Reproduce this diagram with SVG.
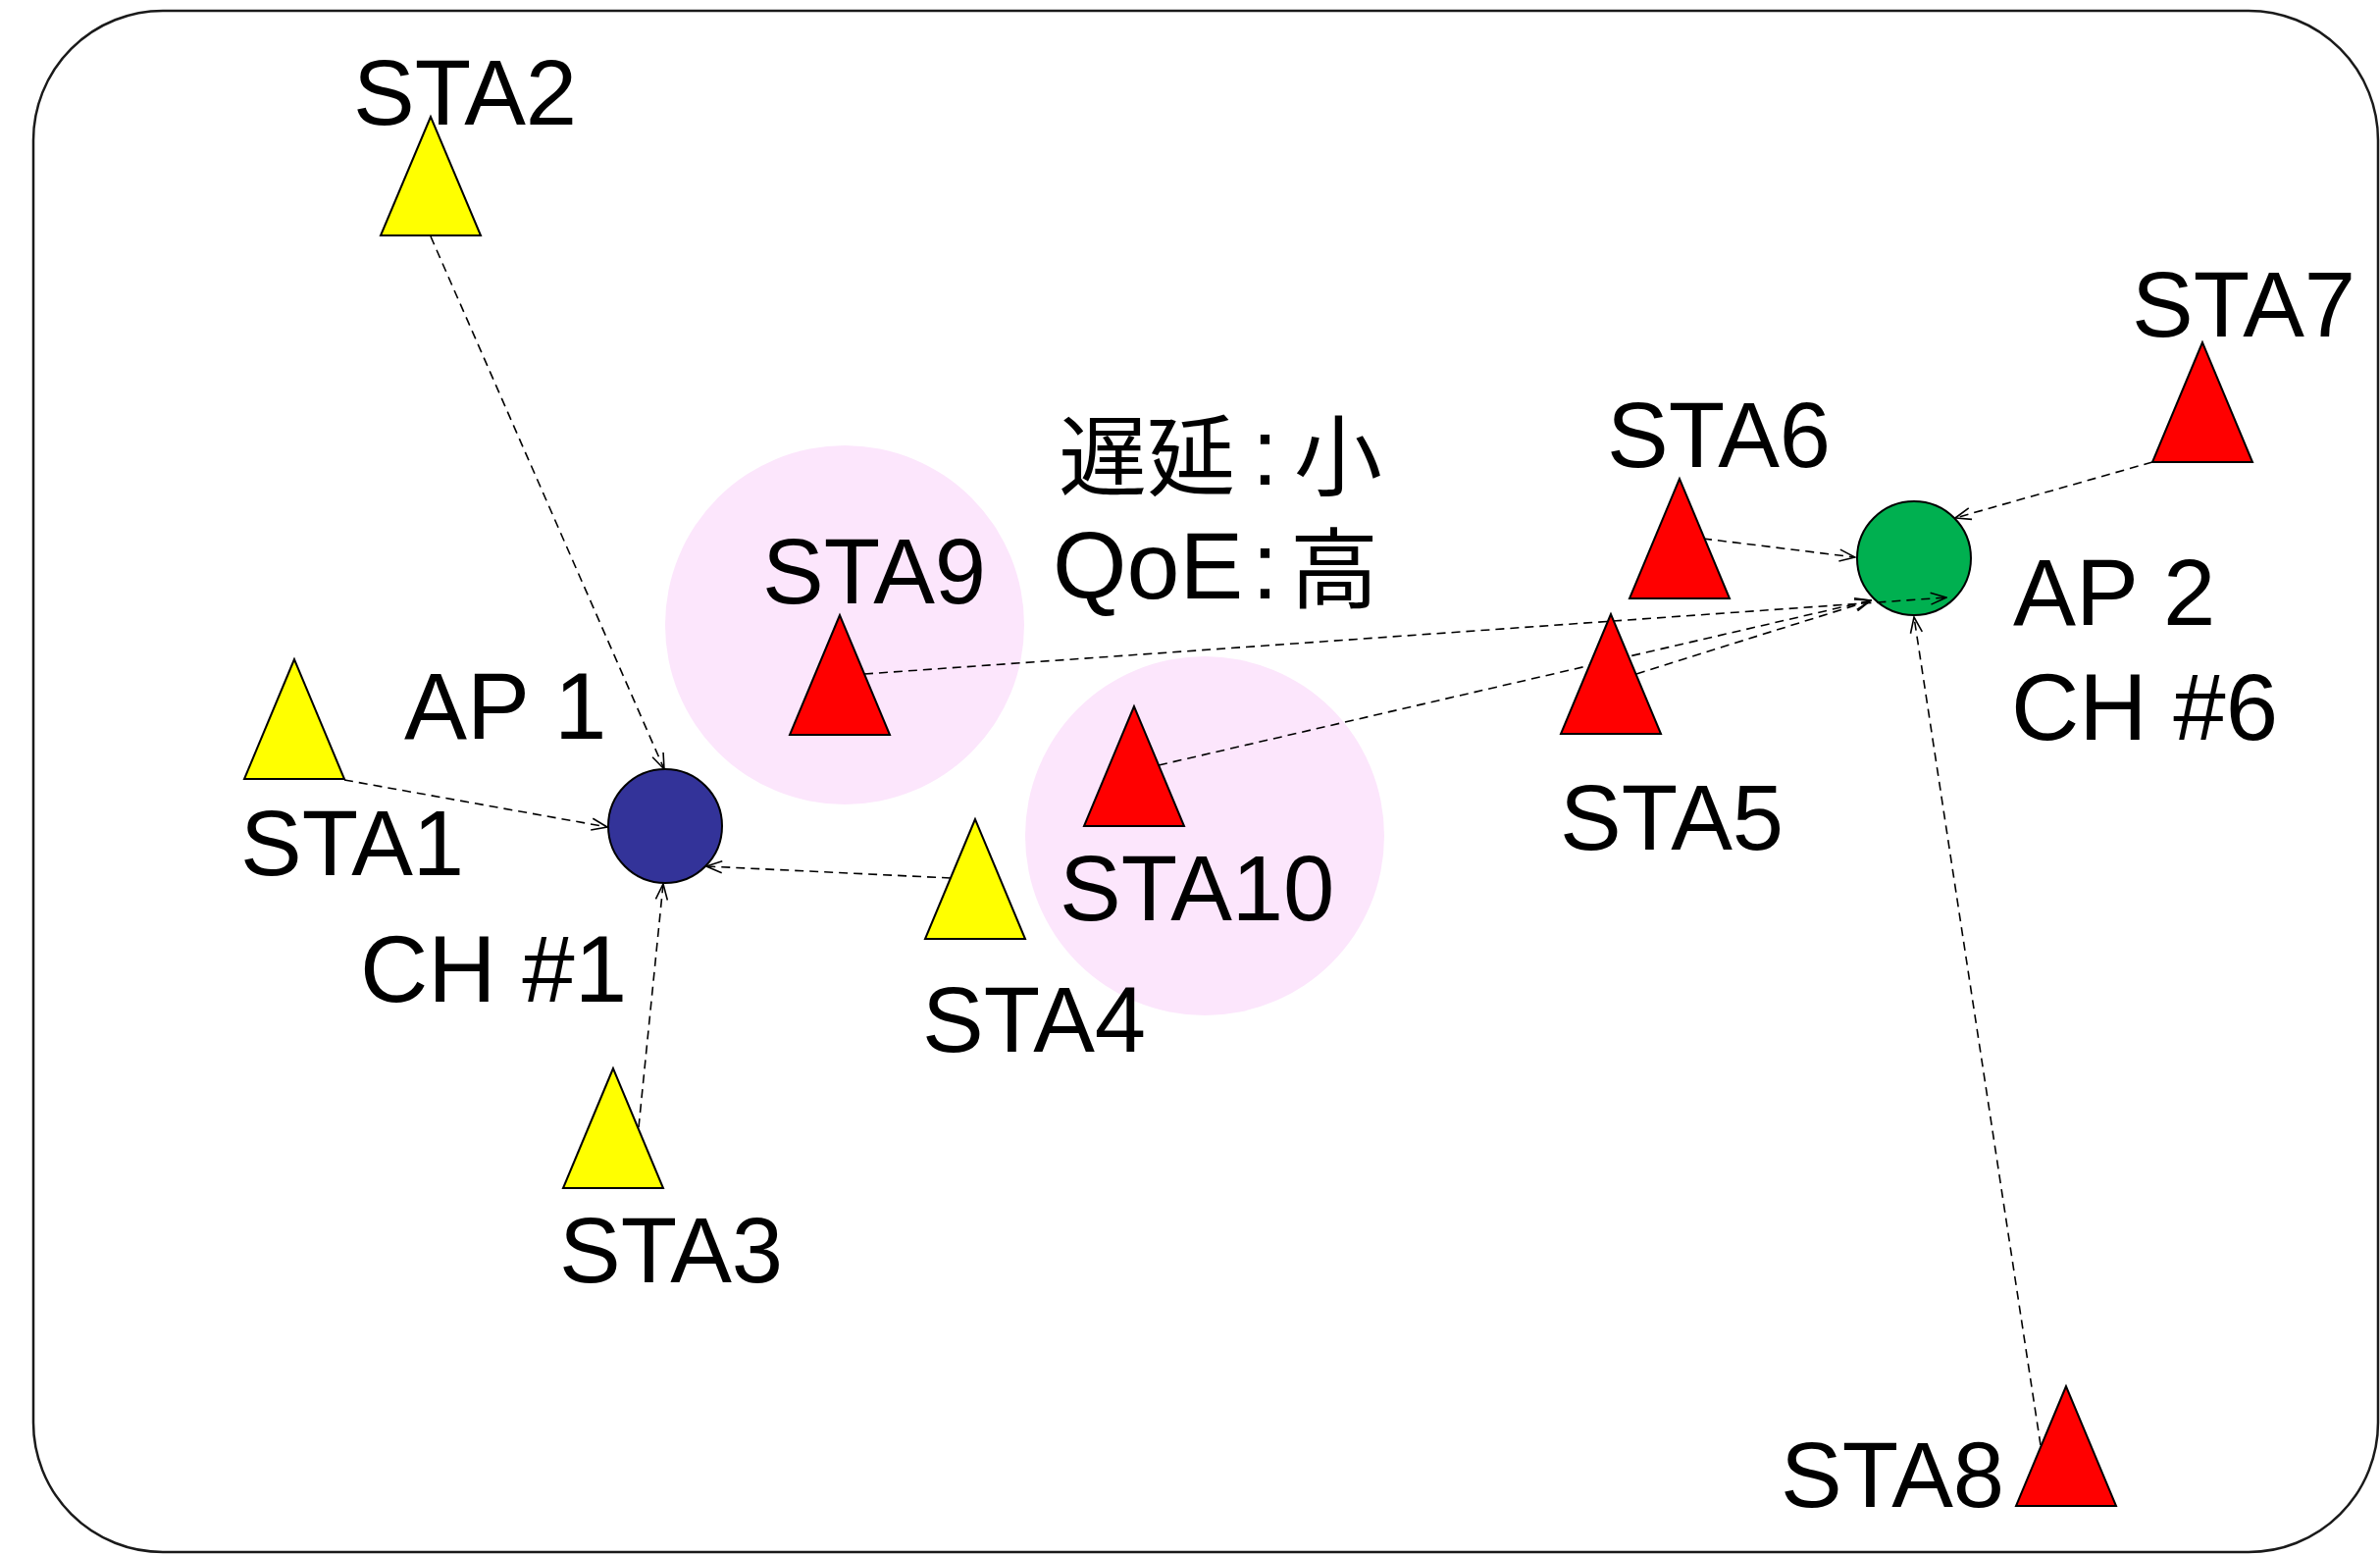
<svg xmlns="http://www.w3.org/2000/svg" width="2426" height="1585" viewBox="0 0 2426 1585">
  <defs>
    <style>
      .frame { fill: #ffffff; stroke: #1a1a1a; stroke-width: 2.5; }
      .zone { fill: #fce6fc; stroke: none; }
      .ap { stroke: #000000; stroke-width: 2; }
      .sta { stroke: #000000; stroke-width: 2; stroke-linejoin: miter; }
      .yellow { fill: #ffff00; }
      .red { fill: #ff0000; }
      .link { fill: none; stroke: #000000; stroke-width: 1.6; stroke-dasharray: 9 6; marker-end: url(#arrow); }
      .lbl { font-family: "Liberation Sans", Arial, sans-serif; font-size: 94px; fill: #000000; }
      .lbl-ap { font-family: "Liberation Sans", Arial, sans-serif; font-size: 96px; fill: #000000; }
      .note { font-family: "Liberation Sans", Arial, sans-serif; font-size: 97px; fill: #000000; }
      .cjk { font-family: "Noto Sans CJK JP", "Noto Sans CJK SC", sans-serif; font-size: 90px; }
    </style>
    <marker id="arrow" viewBox="0 0 18 14" refX="17" refY="7" markerWidth="18" markerHeight="14" markerUnits="userSpaceOnUse" orient="auto">
      <path d="M1,1 L17,7 L1,13" fill="none" stroke="#000000" stroke-width="1.6"/>
    </marker>
  </defs>

  <!-- outer frame -->
  <rect class="frame" x="34" y="11" width="2390" height="1571" rx="132" ry="132"/>

  <!-- low-delay highlight zones -->
  <g id="zones">
    <circle class="zone" cx="861" cy="637" r="183"/>
    <circle class="zone" cx="1228" cy="852" r="183"/>
  </g>

  <!-- access points -->
  <g id="AP1">
    <circle class="ap" cx="678" cy="842" r="58" fill="#333399"/>
    <text class="lbl-ap" x="412" y="753">AP 1</text>
    <text class="lbl-ap" x="367" y="1021">CH #1</text>
  </g>
  <g id="AP2">
    <circle class="ap" cx="1951" cy="569" r="58" fill="#00b050"/>
    <text class="lbl-ap" x="2052" y="637">AP 2</text>
    <text class="lbl-ap" x="2050" y="754">CH #6</text>
  </g>

  <!-- associations station -> AP -->
  <g id="connectors">
    <line class="link" x1="439" y1="241" x2="677" y2="784"/>
    <line class="link" x1="351" y1="795" x2="619" y2="843"/>
    <line class="link" x1="651" y1="1149" x2="676" y2="901"/>
    <line class="link" x1="969" y1="895" x2="720" y2="883"/>
    <line class="link" x1="881" y1="687" x2="1984" y2="609"/>
    <line class="link" x1="1181" y1="780" x2="1907" y2="612"/>
    <line class="link" x1="1668" y1="687" x2="1907" y2="612"/>
    <line class="link" x1="1736" y1="549" x2="1891" y2="568"/>
    <line class="link" x1="2194" y1="471" x2="1993" y2="528"/>
    <line class="link" x1="2080" y1="1473" x2="1951" y2="629"/>
  </g>

  <!-- stations -->
  <g id="STA1">
    <polygon class="sta yellow" points="300,672 249,794 351,794"/>
    <text class="lbl" x="245" y="892">STA1</text>
  </g>
  <g id="STA2">
    <text class="lbl" x="360" y="127">STA2</text>
    <polygon class="sta yellow" points="439,119 388,240 490,240"/>
  </g>
  <g id="STA3">
    <polygon class="sta yellow" points="625,1089 574,1211 676,1211"/>
    <text class="lbl" x="570" y="1307">STA3</text>
  </g>
  <g id="STA4">
    <polygon class="sta yellow" points="994,835 943,957 1045,957"/>
    <text class="lbl" x="940" y="1072">STA4</text>
  </g>
  <g id="STA5">
    <polygon class="sta red" points="1642,626 1591,748 1693,748"/>
    <text class="lbl" x="1590" y="866">STA5</text>
  </g>
  <g id="STA6">
    <polygon class="sta red" points="1712,488 1661,610 1763,610"/>
    <text class="lbl" x="1638" y="476">STA6</text>
  </g>
  <g id="STA7">
    <polygon class="sta red" points="2245,349 2194,471 2296,471"/>
    <text class="lbl" x="2173" y="343">STA7</text>
  </g>
  <g id="STA8">
    <text class="lbl" x="1815" y="1536">STA8</text>
    <polygon class="sta red" points="2106,1413 2055,1535 2157,1535"/>
  </g>
  <g id="STA9">
    <polygon class="sta red" points="856,627 805,749 907,749"/>
    <text class="lbl" x="777" y="615">STA9</text>
  </g>
  <g id="STA10">
    <polygon class="sta red" points="1156,720 1105,842 1207,842"/>
    <text class="lbl" x="1080" y="938">STA10</text>
  </g>

  <!-- annotation for the highlighted stations: delay small / QoE high -->
  <g id="note">
    <text class="note"><tspan class="cjk" x="1079" y="498">遅延</tspan><tspan x="1276" y="494">:</tspan><tspan class="cjk" x="1319" y="498">小</tspan><tspan x="1073" y="610">QoE</tspan><tspan x="1276" y="610">:</tspan><tspan class="cjk" x="1315" y="613">高</tspan></text>
  </g>
</svg>
